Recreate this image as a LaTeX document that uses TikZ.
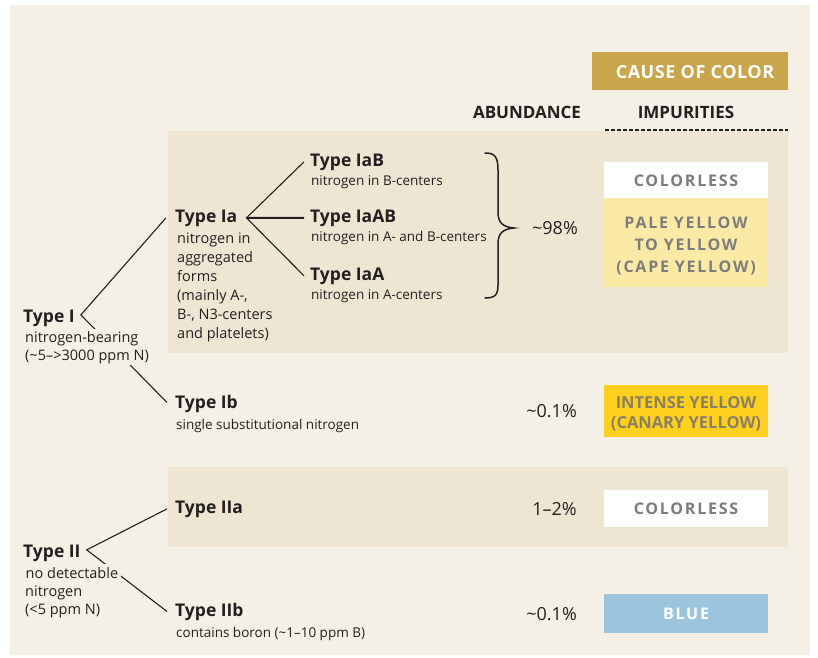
\documentclass[tikz,border=0pt]{standalone}
\usepackage{fontspec}
\setmainfont{Open Sans}
\usetikzlibrary{calc}
\pgfdeclarelayer{bg}
\pgfdeclarelayer{lines}
\pgfsetlayers{bg,lines,main}
\definecolor{panel}{HTML}{F5F0E6}
\definecolor{band}{HTML}{EEE6D3}
\definecolor{gold}{HTML}{C9A54B}
\definecolor{ink}{HTML}{231F20}
\definecolor{boxgray}{HTML}{7C7C7C}
\definecolor{paleyel}{HTML}{FBEAA5}
\definecolor{intyel}{HTML}{FDD01E}
\definecolor{intgray}{HTML}{8A7F60}
\definecolor{blueb}{HTML}{9CC4DC}
\tikzset{
  lab/.style={font=\bfseries\fontsize{17.5}{20}\selectfont, text=ink, inner sep=0pt, anchor=base west},
  sm/.style={font=\fontsize{13.5}{16}\selectfont, text=ink, inner sep=1pt, anchor=base west},
  md/.style={font=\fontsize{14.5}{18}\selectfont, text=ink, inner sep=2pt, anchor=base west},
  pct/.style={font=\fontsize{18}{20}\selectfont, text=ink, inner sep=0pt, anchor=base east},
  hdr/.style={font=\bfseries\fontsize{17}{20}\selectfont, inner sep=0pt, anchor=base},
  cbox/.style={minimum width=164pt, inner sep=0pt, align=center, text=boxgray,
    font=\bfseries\fontsize{16}{22}\selectfont\addfontfeature{LetterSpace=11}},
  conn/.style={draw=ink, line width=1.1pt},
}
\begin{document}
\begin{tikzpicture}[x=1pt,y=-1pt]
\useasboundingbox (0,0) rectangle (818,657);
\begin{pgfonlayer}{bg}
\fill[white] (0,0) rectangle (818,657);
\fill[panel] (10,5) rectangle (810,655);
\fill[band] (168,131) rectangle (788,353);
\fill[band] (168,467) rectangle (788,547);
\end{pgfonlayer}

% headers
\node[fill=gold, minimum width=196pt, minimum height=38pt, inner sep=0pt] (cause) at (690,71) {};
\node[hdr, text=white, font=\bfseries\fontsize{18}{20}\selectfont\addfontfeature{LetterSpace=3}] (causet) at (695,78) {CAUSE OF COLOR};
\node[hdr, text=ink] (abund) at (527,118) {ABUNDANCE};
\node[hdr, text=ink] (impur) at (686,118) {IMPURITIES};
\draw[ink, line width=2.2pt, dash pattern=on 4pt off 2pt] (605,130) -- (788,130);

% Type I
\node[lab] (t1) at (23,322) {Type I};
\node[md, fill=panel] (t1a) at (23,342) {nitrogen-bearing};
\node[md, fill=panel] (t1b) at (23,360) {(\textasciitilde5–>3000 ppm N)};

% Type Ia
\node[lab] (ia) at (175,222) {Type Ia};
\node[md] (ia1) at (175,243) {nitrogen in};
\node[md] (ia2) at (175,262) {aggregated};
\node[md] (ia3) at (175,281) {forms};
\node[md] (ia4) at (175,300) {(mainly A-,};
\node[md] (ia5) at (175,319) {B-, N3-centers};
\node[md] (ia6) at (175,338) {and platelets)};

\node[lab] (iab) at (310,166) {Type IaB};
\node[sm] (iabs) at (310,185) {nitrogen in B-centers};
\node[lab] (iaab) at (310,222) {Type IaAB};
\node[sm] (iaabs) at (310,241) {nitrogen in A- and B-centers};
\node[lab] (iaa) at (310,280) {Type IaA};
\node[sm] (iaas) at (310,299) {nitrogen in A-centers};

% Type Ib
\node[lab] (ib) at (175,408) {Type Ib};
\node[sm] (ibs) at (175,429) {single substitutional nitrogen};

% Type II
\node[lab] (t2) at (23,557) {Type II};
\node[md, fill=panel, inner sep=2.5pt] (t2a) at (23,578) {no detectable};
\node[md, fill=panel] (t2b) at (23,596) {nitrogen};
\node[md, fill=panel] (t2c) at (23,614) {(<5 ppm N)};

\node[lab] (iia) at (175,513) {Type IIa};
\node[lab] (iib) at (175,616) {Type IIb};
\node[sm] (iibs) at (175,637) {contains boron (\textasciitilde1–10 ppm B)};

% abundances
\node[pct] (p1) at (578,234) {\textasciitilde98\%};
\node[pct] (p2) at (577,417) {\textasciitilde0.1\%};
\node[pct] (p3) at (577,515) {1–2\%};
\node[pct] (p4) at (577,620) {\textasciitilde0.1\%};

% colour boxes
\node[cbox, fill=white, minimum height=36pt] (c1) at (686,180) {\rule{0pt}{13pt}COLORLESS};
\node[cbox, fill=paleyel, minimum height=89pt] (c2) at (686,242.5) {\rule{0pt}{19pt}PALE YELLOW\\TO YELLOW\\(CAPE YELLOW)};
\node[cbox, fill=intyel, minimum height=52pt, text=intgray,
  font=\bfseries\fontsize{16.5}{20}\selectfont] (c3) at (686,411) {\rule{0pt}{18pt}INTENSE YELLOW\\(CANARY YELLOW)};
\node[cbox, fill=white, minimum height=37pt] (c4) at (686,508.5) {COLORLESS};
\node[cbox, fill=blueb, minimum height=39pt, text=white] (c5) at (686,613.5) {BLUE};

% connectors
\begin{pgfonlayer}{lines}
\coordinate (v1) at ($(t1.east)+(6,-3)$);
\coordinate (v1a) at ($(ia.west)+(-9,0)$);
\coordinate (v1b) at ($(ib.west)+(-8,-1)$);
\draw[conn] (v1a) -- (v1) -- (v1b);
\coordinate (v2) at ($(ia.east)+(9,0)$);
\draw[conn] ($(iab.west)+(-6,0)$) -- (v2) -- ($(iaa.west)+(-6,0)$);
\draw[conn, line width=2pt] (v2) -- ($(iaab.west)+(-6,0)$);
\coordinate (v3) at ($(t2.east)+(6,-3)$);
\draw[conn] ($(iia.west)+(-8,0)$) -- (v3) -- ($(iib.west)+(-8,0)$);
% brace
\draw[ink, line width=1.5pt, line cap=round]
  (485,153) .. controls (495,153) and (498,157) .. (498,170)
  -- (498,212) .. controls (498,222) and (502,227) .. (514,228)
  .. controls (502,229) and (498,234) .. (498,244)
  -- (498,285) .. controls (498,295) and (495,298) .. (485,298);
\end{pgfonlayer}
\end{tikzpicture}
\end{document}
